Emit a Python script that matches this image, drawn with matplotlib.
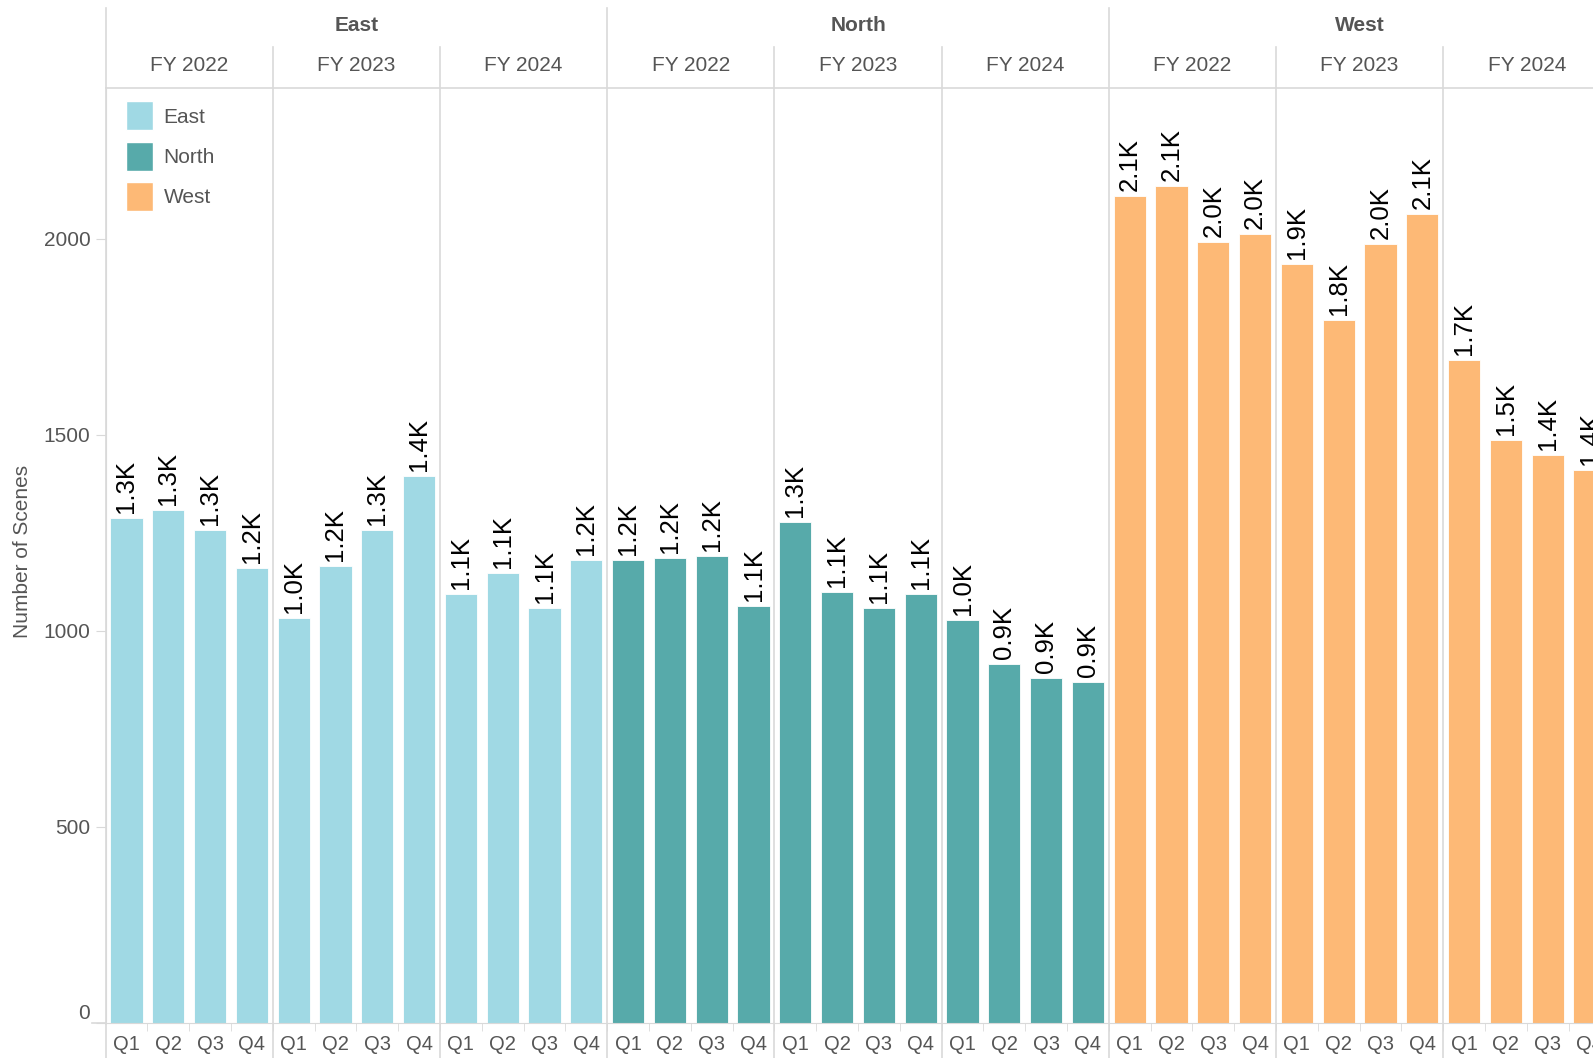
import matplotlib
matplotlib.use("Agg")
import matplotlib.pyplot as plt
from matplotlib.lines import Line2D
from matplotlib.patches import Patch

plt.rcParams['font.family'] = ['Liberation Sans', 'DejaVu Sans']

regions = ["East", "North", "West"]
years = ["FY 2022", "FY 2023", "FY 2024"]
quarters = ["Q1", "Q2", "Q3", "Q4"]

east = [1287, 1309, 1257, 1160, 1032, 1165, 1257, 1395, 1094, 1148, 1058, 1180]
north = [1180, 1185, 1191, 1063, 1277, 1099, 1058, 1094, 1027, 915, 879, 869]
west = [2109, 2134, 1992, 2012, 1935, 1793, 1986, 2063, 1690, 1486, 1449, 1410]

colors = {"East": "#A0D9E4", "North": "#57AAAA", "West": "#FDB976"}
grid_col = "#D9D9D9"
text_col = "#555555"

W, H = 1593, 1058
fig = plt.figure(figsize=(W / 100, H / 100), dpi=100)

# axes: left edge 105.6px, 9 panes of 167.2px (last one runs off the figure)
left, right = 105.6, 105.6 + 9 * 167.2
top, bottom = 87.5, 1023
ax = fig.add_axes([left / W, 1 - bottom / H, (right - left) / W, (bottom - top) / H])

series = {"East": east, "North": north, "West": west}
i = 0
for r in regions:
    vals = series[r]
    xs = list(range(i, i + len(vals)))
    ax.bar(xs, vals, width=0.77, color=colors[r], edgecolor="white", linewidth=0.6, zorder=2)
    for x, v in zip(xs, vals):
        ax.annotate(f"{v / 1000:.1f}K", (x, v), xytext=(0, 3.5), textcoords="offset points",
                    rotation=90, ha="center", va="bottom", fontsize=18.5, color="black")
    i += len(vals)

n = i
ax.set_xlim(-0.5, n - 0.5)
ax.set_ylim(0, 2385)

for s in ["top", "right"]:
    ax.spines[s].set_visible(False)
ax.spines["left"].set_color(grid_col)
ax.spines["bottom"].set_color(grid_col)

ax.set_yticks([0, 500, 1000, 1500, 2000])
ax.set_yticklabels(["0", "500", "1000", "1500", "2000"])
ax.tick_params(axis="y", length=7, color=grid_col, labelsize=15, labelcolor=text_col, pad=4)
for lab in ax.get_yticklabels():
    if lab.get_text() == "0":
        lab.set_va("bottom")

ax.set_xticks(range(n))
ax.set_xticklabels(quarters * (n // 4))
ax.set_xticks([k + 0.5 for k in range(n - 1)], minor=True)
ax.tick_params(axis="x", which="major", length=0, labelsize=14.5, labelcolor=text_col, pad=9)
ax.tick_params(axis="x", which="minor", length=6, color=grid_col)

trans = ax.get_xaxis_transform()
ah = bottom - top
y_top_region = (bottom - 8) / ah
y_top_year = (bottom - 46.7) / ah
y_bottom = (bottom - H) / ah

# pane dividers
for k in range(1, 9):
    xb = 4 * k - 0.5
    ytop = y_top_region if k % 3 == 0 else y_top_year
    ax.add_line(Line2D([xb, xb], [y_bottom, ytop], transform=trans, color=grid_col,
                       lw=1.2, clip_on=False, zorder=1))
ax.add_line(Line2D([-0.5, -0.5], [y_bottom, y_top_region], transform=trans, color=grid_col,
                   lw=1.2, clip_on=False, zorder=1))
# header base line
ax.add_line(Line2D([-0.5, n - 0.5], [1, 1], transform=trans, color=grid_col,
                   lw=1.2, clip_on=False))
# bottom axis extends a little to the left
fig.add_artist(Line2D([92 / W, left / W], [1 - bottom / H, 1 - bottom / H], color=grid_col, lw=1.2))

# header texts
y_region = (bottom - 25.4) / ah
y_year = (bottom - 65) / ah
for ri, r in enumerate(regions):
    ax.text(ri * 12 + 5.5, y_region, r, transform=trans, ha="center", va="center",
            fontsize=15, fontweight="bold", color=text_col)
    for yi, yname in enumerate(years):
        ax.text(ri * 12 + yi * 4 + 1.5, y_year, yname, transform=trans, ha="center",
                va="center", fontsize=15, color=text_col)

fig.text(22.4 / W, 1 - 551 / H, "Number of Scenes", rotation=90, ha="center", va="center",
         fontsize=15, color=text_col)

handles = [Patch(facecolor=colors[r], edgecolor="white", label=r) for r in regions]
ax.legend(handles=handles, loc="upper left", bbox_to_anchor=(0.008, 0.994), frameon=False,
          fontsize=15, handlelength=1.3, handleheight=1.75, handletextpad=0.5,
          labelspacing=0.55, borderaxespad=0, labelcolor=text_col)

fig.savefig("out.png", dpi=100)
